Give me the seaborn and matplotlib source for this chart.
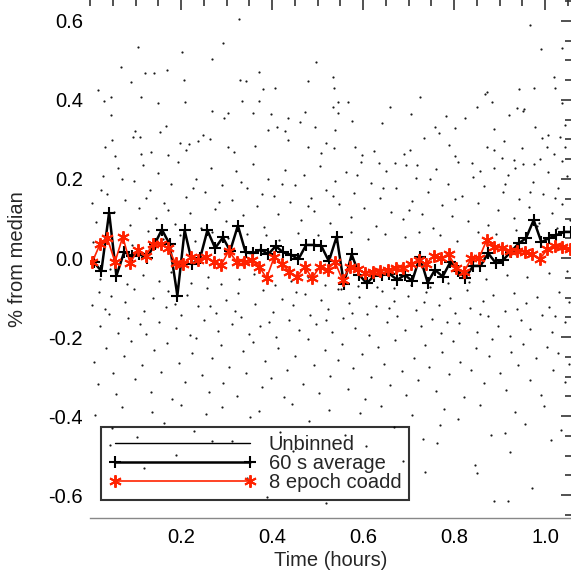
import numpy as np
import seaborn as sns
import matplotlib.pyplot as plt
from matplotlib.lines import Line2D
from matplotlib.ticker import MultipleLocator, FixedLocator, FormatStrFormatter

# 60 s average (hours, % from median)
avg_hours = [0.008, 0.025, 0.042, 0.058, 0.075, 0.092, 0.108, 0.125, 0.142, 0.158,
             0.175, 0.192, 0.208, 0.225, 0.242, 0.258, 0.275, 0.292, 0.308, 0.325,
             0.342, 0.358, 0.375, 0.392, 0.408, 0.425, 0.442, 0.458, 0.475, 0.492,
             0.508, 0.525, 0.542, 0.558, 0.575, 0.592, 0.608, 0.625, 0.642, 0.658,
             0.675, 0.692, 0.708, 0.725, 0.742, 0.758, 0.775, 0.792, 0.808, 0.825,
             0.842, 0.858, 0.875, 0.892, 0.908, 0.925, 0.942, 0.958, 0.975, 0.992,
             1.008, 1.025, 1.042, 1.058]
avg_values = [-0.010, -0.033, 0.115, -0.045, 0.015, 0.005, 0.010, 0.000, 0.035, 0.072,
              0.035, -0.095, 0.070, -0.015, 0.000, 0.070, 0.025, 0.052, 0.018, 0.082,
              0.014, 0.012, 0.021, 0.010, 0.030, 0.014, 0.008, -0.003, 0.033, 0.033,
              0.031, -0.008, 0.054, -0.065, 0.009, -0.043, -0.064, -0.045, -0.043, -0.040,
              -0.055, -0.043, -0.058, 0.003, -0.062, -0.030, -0.047, -0.010, -0.033, -0.050,
              -0.020, -0.020, 0.012, -0.013, -0.005, 0.016, 0.037, 0.050, 0.096, 0.040,
              0.050, 0.058, 0.066, 0.066]

# 8 epoch coadd
coadd_hours = [0.005, 0.022, 0.038, 0.055, 0.072, 0.088, 0.105, 0.122, 0.138, 0.155,
               0.172, 0.188, 0.205, 0.222, 0.238, 0.255, 0.272, 0.288, 0.305, 0.322,
               0.338, 0.355, 0.372, 0.388, 0.405, 0.422, 0.438, 0.455, 0.472, 0.488,
               0.505, 0.522, 0.538, 0.555, 0.572, 0.588, 0.605, 0.622, 0.638, 0.655,
               0.672, 0.688, 0.705, 0.722, 0.738, 0.755, 0.772, 0.788, 0.805, 0.822,
               0.838, 0.855, 0.872, 0.888, 0.905, 0.922, 0.938, 0.955, 0.972, 0.988,
               1.005, 1.022, 1.038, 1.055]
coadd_values = [-0.010, 0.035, 0.050, -0.010, 0.054, -0.013, 0.020, 0.005, 0.035, 0.035,
                0.025, -0.013, -0.015, 0.003, -0.005, 0.003, -0.010, -0.018, 0.018, -0.009,
                -0.009, -0.005, -0.022, -0.051, 0.003, -0.015, -0.035, -0.047, -0.022, -0.051,
                -0.022, -0.030, -0.009, -0.056, -0.022, -0.028, -0.039, -0.035, -0.033, -0.030,
                -0.025, -0.025, -0.015, -0.005, -0.015, 0.005, 0.000, 0.010, -0.026, -0.035,
                -0.001, 0.000, 0.046, 0.029, 0.025, 0.018, 0.018, 0.015, 0.010, -0.003,
                0.022, 0.030, 0.027, 0.024]

# unbinned points, read band by band as [hours, % from median]
dots_top = [[0.327, 0.604], [0.292, 0.545], [0.106, 0.535], [0.202, 0.522], [0.268, 0.503],
            [0.068, 0.484], [0.121, 0.468], [0.140, 0.468], [0.170, 0.476], [0.206, 0.451],
            [0.090, 0.445], [0.330, 0.451], [0.371, 0.472], [0.342, 0.449], [0.480, 0.449],
            [0.535, 0.457], [0.017, 0.425], [0.112, 0.408], [0.047, 0.407], [0.381, 0.428],
            [0.406, 0.431], [0.537, 0.431], [0.497, 0.497], [0.991, 0.528], [1.037, 0.532],
            [1.019, 0.457], [0.967, 0.590], [1.022, 0.430], [0.975, 0.430], [0.942, 0.428],
            [0.873, 0.419], [0.867, 0.414], [0.725, 0.408], [1.037, 0.392], [0.953, 0.376],
            [0.938, 0.379]]
dots_upper = [[0.031, 0.397], [0.150, 0.393], [0.209, 0.396], [0.269, 0.373], [0.295, 0.354],
              [0.304, 0.366], [0.335, 0.397], [0.371, 0.397], [0.358, 0.366], [0.398, 0.364],
              [0.436, 0.354], [0.461, 0.343], [0.472, 0.370], [0.494, 0.332], [0.535, 0.381],
              [0.544, 0.396], [0.546, 0.366], [0.568, 0.396], [0.575, 0.347], [0.538, 0.324],
              [0.642, 0.341], [0.659, 0.383], [0.705, 0.365], [0.758, 0.332], [0.783, 0.359],
              [0.802, 0.328], [0.824, 0.354], [0.850, 0.383], [0.883, 0.396], [0.887, 0.326],
              [0.909, 0.295], [0.920, 0.362], [0.951, 0.372], [0.978, 0.332], [0.993, 0.303],
              [1.007, 0.311], [1.033, 0.307], [1.044, 0.337], [1.044, 0.282], [1.004, 0.282],
              [0.047, 0.362], [0.099, 0.322], [0.110, 0.307], [0.095, 0.307], [0.154, 0.320],
              [0.167, 0.334], [0.249, 0.311], [0.264, 0.300], [0.217, 0.288], [0.198, 0.290],
              [0.049, 0.299], [0.033, 0.282], [0.055, 0.257], [0.113, 0.263], [0.134, 0.268],
              [0.172, 0.260], [0.210, 0.273], [0.238, 0.295], [0.304, 0.282], [0.317, 0.269],
              [0.363, 0.284], [0.412, 0.332], [0.392, 0.324], [0.428, 0.322], [0.436, 0.299],
              [0.480, 0.282], [0.507, 0.265], [0.518, 0.290], [0.537, 0.278], [0.582, 0.282],
              [0.597, 0.261], [0.625, 0.272], [0.634, 0.240], [0.691, 0.263], [0.703, 0.273],
              [0.670, 0.241], [0.719, 0.235], [0.733, 0.303], [0.766, 0.316], [0.789, 0.286],
              [0.802, 0.257], [0.839, 0.240], [0.872, 0.282], [0.887, 0.273], [0.905, 0.252],
              [0.931, 0.248], [0.934, 0.227], [0.949, 0.278], [0.975, 0.238], [0.989, 0.251],
              [1.019, 0.262], [1.037, 0.246]]
dots_inner_up = [[0.004, 0.138], [0.014, 0.091], [0.029, 0.207], [0.038, 0.163], [0.053, 0.117],
                 [0.061, 0.229], [0.076, 0.148], [0.087, 0.083], [0.096, 0.194], [0.108, 0.127],
                 [0.116, 0.236], [0.131, 0.172], [0.144, 0.101], [0.149, 0.214], [0.163, 0.139],
                 [0.178, 0.188], [0.186, 0.087], [0.194, 0.242], [0.211, 0.154], [0.219, 0.113],
                 [0.232, 0.201], [0.244, 0.076], [0.253, 0.167], [0.266, 0.228], [0.274, 0.124],
                 [0.291, 0.185], [0.298, 0.094], [0.313, 0.147], [0.321, 0.219], [0.337, 0.108],
                 [0.346, 0.176], [0.359, 0.238], [0.368, 0.131], [0.383, 0.079], [0.391, 0.199],
                 [0.405, 0.158], [0.414, 0.112], [0.428, 0.224], [0.439, 0.141], [0.451, 0.186],
                 [0.463, 0.097], [0.471, 0.209], [0.486, 0.152], [0.493, 0.119], [0.506, 0.233],
                 [0.519, 0.171], [0.527, 0.088], [0.539, 0.196], [0.548, 0.136], [0.562, 0.217],
                 [0.574, 0.104], [0.581, 0.164], [0.596, 0.243], [0.603, 0.127], [0.617, 0.191],
                 [0.628, 0.082], [0.638, 0.153], [0.651, 0.221], [0.662, 0.116], [0.673, 0.178],
                 [0.687, 0.098], [0.694, 0.236], [0.708, 0.145], [0.717, 0.203], [0.729, 0.112],
                 [0.742, 0.168], [0.753, 0.077], [0.761, 0.226], [0.774, 0.133], [0.786, 0.187],
                 [0.795, 0.106], [0.809, 0.242], [0.818, 0.157], [0.831, 0.093], [0.842, 0.204],
                 [0.853, 0.138], [0.866, 0.181], [0.874, 0.084], [0.888, 0.229], [0.896, 0.121],
                 [0.907, 0.166], [0.919, 0.211], [0.932, 0.102], [0.943, 0.149], [0.951, 0.237],
                 [0.965, 0.128], [0.973, 0.193], [0.987, 0.089], [0.996, 0.161], [1.007, 0.218],
                 [1.016, 0.114], [1.028, 0.176], [1.038, 0.136], [1.049, 0.207], [1.054, 0.095],
                 [0.025, 0.173], [0.071, 0.201], [0.122, 0.153], [0.171, 0.121], [0.227, 0.178],
                 [0.283, 0.141], [0.331, 0.192], [0.377, 0.163], [0.422, 0.187], [0.478, 0.131],
                 [0.533, 0.158], [0.587, 0.211], [0.644, 0.177], [0.701, 0.122], [0.748, 0.201],
                 [0.803, 0.149], [0.858, 0.219], [0.912, 0.188], [0.967, 0.166], [1.021, 0.153]]
dots_mid = [[0.006, 0.041], [0.021, -0.052], [0.037, 0.063], [0.044, -0.027], [0.069, 0.055],
            [0.081, -0.066], [0.093, 0.032], [0.117, -0.044], [0.128, 0.068], [0.152, -0.059],
            [0.161, 0.049], [0.179, -0.036], [0.197, 0.058], [0.223, -0.063], [0.231, 0.044],
            [0.259, -0.048], [0.268, 0.066], [0.287, -0.067], [0.303, 0.051], [0.328, -0.054],
            [0.344, 0.062], [0.361, -0.041], [0.386, 0.057], [0.407, -0.069], [0.416, 0.046],
            [0.441, -0.058], [0.456, 0.064], [0.478, -0.047], [0.502, 0.059], [0.517, -0.068],
            [0.542, 0.053], [0.551, -0.079], [0.573, 0.067], [0.589, -0.071], [0.612, 0.049],
            [0.631, -0.073], [0.648, 0.061], [0.669, -0.076], [0.693, 0.054], [0.706, -0.069],
            [0.723, 0.066], [0.747, -0.074], [0.769, 0.058], [0.786, -0.063], [0.807, 0.043],
            [0.833, -0.061], [0.852, 0.067], [0.871, -0.052], [0.893, 0.061], [0.917, -0.043],
            [0.936, 0.072], [0.961, -0.047], [0.983, 0.081], [1.009, -0.039], [1.027, 0.077],
            [1.049, -0.034]]
dots_inner_low = [[0.004, -0.118], [0.019, -0.086], [0.023, -0.171], [0.041, -0.142], [0.047, -0.097],
                  [0.062, -0.189], [0.078, -0.111], [0.083, -0.153], [0.097, -0.079], [0.118, -0.134],
                  [0.124, -0.192], [0.139, -0.101], [0.151, -0.162], [0.166, -0.124], [0.172, -0.083],
                  [0.189, -0.177], [0.201, -0.145], [0.214, -0.093], [0.219, -0.196], [0.238, -0.121],
                  [0.251, -0.158], [0.257, -0.076], [0.276, -0.139], [0.282, -0.184], [0.299, -0.107],
                  [0.311, -0.167], [0.326, -0.088], [0.331, -0.149], [0.349, -0.193], [0.362, -0.116],
                  [0.374, -0.171], [0.381, -0.082], [0.402, -0.137], [0.409, -0.199], [0.421, -0.103],
                  [0.438, -0.156], [0.446, -0.119], [0.459, -0.181], [0.473, -0.091], [0.484, -0.143],
                  [0.497, -0.168], [0.508, -0.106], [0.523, -0.129], [0.531, -0.188], [0.546, -0.078],
                  [0.557, -0.152], [0.569, -0.114], [0.583, -0.176], [0.591, -0.098], [0.608, -0.141],
                  [0.613, -0.195], [0.629, -0.122], [0.641, -0.084], [0.652, -0.163], [0.667, -0.108],
                  [0.674, -0.147], [0.692, -0.183], [0.699, -0.095], [0.716, -0.131], [0.727, -0.172],
                  [0.738, -0.087], [0.751, -0.154], [0.767, -0.118], [0.772, -0.191], [0.791, -0.102],
                  [0.803, -0.139], [0.811, -0.165], [0.829, -0.081], [0.836, -0.126], [0.851, -0.187],
                  [0.863, -0.109], [0.874, -0.148], [0.886, -0.094], [0.897, -0.172], [0.911, -0.133],
                  [0.923, -0.197], [0.931, -0.089], [0.947, -0.156], [0.959, -0.115], [0.968, -0.179],
                  [0.983, -0.099], [0.994, -0.143], [1.008, -0.124], [1.016, -0.186], [1.031, -0.085],
                  [1.044, -0.161], [1.052, -0.112],
                  [0.034, -0.128], [0.109, -0.168], [0.187, -0.117], [0.263, -0.121], [0.318, -0.133],
                  [0.393, -0.161], [0.452, -0.087], [0.518, -0.157], [0.576, -0.139], [0.657, -0.127],
                  [0.733, -0.111], [0.784, -0.161], [0.858, -0.141], [0.939, -0.128], [1.021, -0.148]]
dots_low = [[0.009, -0.262], [0.017, -0.318], [0.036, -0.227], [0.051, -0.291], [0.058, -0.344],
            [0.074, -0.248], [0.091, -0.209], [0.099, -0.307], [0.114, -0.271], [0.133, -0.338],
            [0.141, -0.232], [0.157, -0.289], [0.169, -0.214], [0.181, -0.357], [0.196, -0.266],
            [0.208, -0.313], [0.224, -0.241], [0.233, -0.203], [0.247, -0.296], [0.261, -0.339],
            [0.268, -0.254], [0.287, -0.221], [0.293, -0.317], [0.306, -0.276], [0.324, -0.349],
            [0.336, -0.236], [0.343, -0.292], [0.359, -0.212], [0.377, -0.326], [0.384, -0.261],
            [0.398, -0.304], [0.413, -0.229], [0.427, -0.353], [0.434, -0.283], [0.451, -0.247],
            [0.467, -0.318], [0.479, -0.206], [0.493, -0.272], [0.504, -0.341], [0.516, -0.233],
            [0.528, -0.298], [0.544, -0.258], [0.553, -0.217], [0.566, -0.331], [0.579, -0.279],
            [0.597, -0.243], [0.604, -0.358], [0.618, -0.302], [0.633, -0.226], [0.646, -0.267],
            [0.659, -0.321], [0.671, -0.208], [0.686, -0.287], [0.694, -0.346], [0.712, -0.252],
            [0.721, -0.309], [0.737, -0.221], [0.746, -0.276], [0.761, -0.337], [0.774, -0.239],
            [0.788, -0.294], [0.797, -0.211], [0.812, -0.264], [0.821, -0.351], [0.838, -0.283],
            [0.849, -0.228], [0.866, -0.316], [0.877, -0.249], [0.883, -0.204], [0.902, -0.291],
            [0.914, -0.334], [0.926, -0.237], [0.941, -0.271], [0.952, -0.218], [0.966, -0.308],
            [0.979, -0.253], [0.991, -0.347], [1.004, -0.226], [1.017, -0.284], [1.028, -0.241],
            [1.043, -0.314], [1.053, -0.268]]
dots_bottom = [[0.012, -0.397], [0.048, -0.431], [0.071, -0.376], [0.103, -0.452], [0.137, -0.389],
               [0.162, -0.418], [0.199, -0.371], [0.229, -0.437], [0.254, -0.394], [0.291, -0.378],
               [0.312, -0.462], [0.351, -0.403], [0.372, -0.386], [0.417, -0.441], [0.443, -0.369],
               [0.481, -0.412], [0.526, -0.384], [0.561, -0.449], [0.594, -0.392], [0.639, -0.374],
               [0.668, -0.428], [0.707, -0.397], [0.731, -0.458], [0.779, -0.381], [0.808, -0.408],
               [0.857, -0.371], [0.881, -0.447], [0.933, -0.389], [0.957, -0.419], [0.998, -0.374],
               [1.034, -0.436],
               [0.043, -0.472], [0.118, -0.531], [0.188, -0.498], [0.269, -0.463], [0.345, -0.557],
               [0.447, -0.488], [0.519, -0.621], [0.606, -0.476], [0.688, -0.514], [0.763, -0.467],
               [0.851, -0.545], [0.924, -0.492], [1.013, -0.461], [0.972, -0.583], [0.388, -0.604],
               [0.769, -0.422], [0.846, -0.524], [0.736, -0.542], [0.888, -0.615], [0.919, -0.615],
               [0.912, -0.443]]

legend_labels = ['Unbinned', '60 s average', '8 epoch coadd']
red = '#ff2200'

dots = np.array(dots_top + dots_upper + dots_inner_up + dots_mid
                + dots_inner_low + dots_low + dots_bottom)

sns.set_style("white")
plt.rcParams['font.family'] = ['Liberation Sans', 'DejaVu Sans']
plt.rcParams['axes.unicode_minus'] = False

fig = plt.figure(figsize=(5.71, 5.73), dpi=100)
ax = fig.add_axes([90 / 571, 55 / 573, 481 / 571, 518 / 573])

sns.scatterplot(x=dots[:, 0], y=dots[:, 1], s=2.5, color='#1a1a1a', linewidth=0, ax=ax, zorder=1)
sns.lineplot(x=avg_hours, y=avg_values, color='black', linewidth=1.8, marker='+',
             markersize=8, markeredgewidth=1.5, markeredgecolor='black',
             estimator=None, ax=ax, zorder=2)
sns.lineplot(x=coadd_hours, y=coadd_values, color=red, linewidth=1.2, marker=(6, 2, 0),
             markersize=9, markeredgewidth=1.4, markeredgecolor=red,
             estimator=None, ax=ax, zorder=3)

ax.set_xlim(0, 1.057)
ax.set_ylim(-0.658, 0.653)
ax.xaxis.set_major_locator(FixedLocator([0.2, 0.4, 0.6, 0.8, 1.0]))
ax.xaxis.set_minor_locator(MultipleLocator(0.05))
ax.yaxis.set_major_locator(MultipleLocator(0.2))
ax.yaxis.set_minor_locator(MultipleLocator(0.05))
ax.xaxis.set_major_formatter(FormatStrFormatter('%.1f'))
ax.yaxis.set_major_formatter(FormatStrFormatter('%.1f'))
ax.tick_params(which='both', direction='in', top=True, right=True, color='#333333', width=1.2)
ax.tick_params(which='major', length=7.5, labelsize=14.5, labelcolor='black')
ax.tick_params(which='minor', length=4.5)
ax.tick_params(axis='x', pad=7)
ax.tick_params(axis='y', pad=5)

for side in ['left', 'top', 'right']:
    ax.spines[side].set_visible(False)
ax.spines['bottom'].set_color('#888888')
ax.spines['bottom'].set_linewidth(1.0)

ax.set_xlabel('Time (hours)', fontsize=14.5)
ax.set_ylabel('% from median', fontsize=14.5)
ax.xaxis.set_label_coords(0.5, -0.064)
ax.yaxis.set_label_coords(-0.131, 0.5)

handles = [Line2D([], [], color='black', lw=1.0),
           Line2D([], [], color='black', lw=1.8, marker='+', ms=8, mew=1.5),
           Line2D([], [], color=red, lw=1.2, marker=(6, 2, 0), ms=9, mew=1.4)]
leg = ax.legend(handles, legend_labels, loc='lower left', bbox_to_anchor=(0.022, 0.034),
                borderaxespad=0, numpoints=2, handlelength=7.3, handletextpad=0.65,
                labelspacing=0.0, borderpad=0.4, fontsize=14.5, frameon=True,
                fancybox=False, edgecolor='black', facecolor='none')
leg.get_frame().set_linewidth(1.5)

plt.savefig('out.png', dpi=100)
